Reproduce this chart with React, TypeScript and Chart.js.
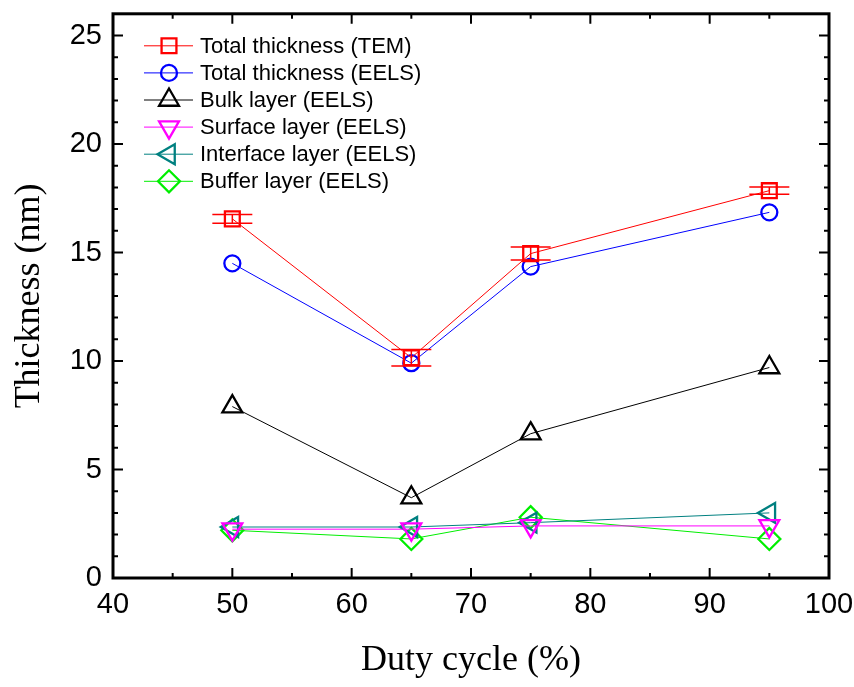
import React, { useEffect, useRef } from "react";
import { Chart, registerables } from "chart.js";
import { drawPoint } from "chart.js/helpers";

Chart.register(...registerables);

// ---- data ----
const dutyCycle = [50, 65, 75, 95];
const totalTEM = [16.55, 10.15, 14.95, 17.85];
const totalTEMErr = [0.2, 0.38, 0.3, 0.17];
const totalEELS = [14.5, 9.9, 14.35, 16.85];
const bulkEELS = [7.9, 3.7, 6.65, 9.7];
const surfaceEELS = [2.25, 2.25, 2.4, 2.4];
const interfaceEELS = [2.35, 2.35, 2.55, 3.0];
const bufferEELS = [2.2, 1.8, 2.8, 1.8];

const seriesNames = [
  "Total thickness (TEM)",
  "Total thickness (EELS)",
  "Bulk layer (EELS)",
  "Surface layer (EELS)",
  "Interface layer (EELS)",
  "Buffer layer (EELS)",
];

const xMajorTicks = [40, 50, 60, 70, 80, 90, 100];
const xMinorTicks = [45, 55, 65, 75, 85, 95];
const yMajorTicks = [0, 5, 10, 15, 20, 25];
const yMinorTicks = [1, 2, 3, 4, 6, 7, 8, 9, 11, 12, 13, 14, 16, 17, 18, 19, 21, 22, 23, 24];

const toPts = (vals: number[]) => vals.map((v, i) => ({ x: dutyCycle[i], y: v }));

const TRANSPARENT = "rgba(0,0,0,0)";

function mk(label: string, vals: number[], color: string, style: string, radius: number, rotation = 0) {
  return {
    label,
    data: toPts(vals),
    borderColor: color,
    backgroundColor: TRANSPARENT,
    borderWidth: 1,
    pointStyle: style,
    pointRotation: rotation,
    pointRadius: radius,
    pointHoverRadius: radius,
    pointBorderWidth: 2.3,
    pointBorderColor: color,
    pointBackgroundColor: TRANSPARENT,
    fill: false,
    tension: 0,
  };
}

const errorBarPlugin = {
  id: "errorBars",
  afterDatasetsDraw(chart: any) {
    const ctx = chart.ctx;
    const meta = chart.getDatasetMeta(0);
    const ys = chart.scales.y;
    ctx.save();
    ctx.strokeStyle = "#ff0000";
    ctx.lineWidth = 1.5;
    meta.data.forEach((pt: any, i: number) => {
      const x = pt.x;
      const yTop = ys.getPixelForValue(totalTEM[i] + totalTEMErr[i]);
      const yBot = ys.getPixelForValue(totalTEM[i] - totalTEMErr[i]);
      ctx.beginPath();
      ctx.moveTo(x, yTop);
      ctx.lineTo(x, yBot);
      ctx.moveTo(x - 20, yTop);
      ctx.lineTo(x + 20, yTop);
      ctx.moveTo(x - 20, yBot);
      ctx.lineTo(x + 20, yBot);
      ctx.stroke();
    });
    ctx.restore();
  },
};

const framePlugin = {
  id: "frameTicks",
  afterDraw(chart: any) {
    const ctx = chart.ctx;
    const { left, right, top, bottom } = chart.chartArea;
    const xs = chart.scales.x;
    const ys = chart.scales.y;
    ctx.save();
    ctx.strokeStyle = "#000";
    ctx.lineWidth = 2;
    const MAJ = 10;
    const MIN = 5;
    ctx.beginPath();
    xMajorTicks.forEach((v) => {
      const p = xs.getPixelForValue(v);
      ctx.moveTo(p, bottom);
      ctx.lineTo(p, bottom - MAJ);
      ctx.moveTo(p, top);
      ctx.lineTo(p, top + MAJ);
    });
    xMinorTicks.forEach((v) => {
      const p = xs.getPixelForValue(v);
      ctx.moveTo(p, bottom);
      ctx.lineTo(p, bottom - MIN);
      ctx.moveTo(p, top);
      ctx.lineTo(p, top + MIN);
    });
    yMajorTicks.forEach((v) => {
      const p = ys.getPixelForValue(v);
      ctx.moveTo(left, p);
      ctx.lineTo(left + MAJ, p);
      ctx.moveTo(right, p);
      ctx.lineTo(right - MAJ, p);
    });
    yMinorTicks.forEach((v) => {
      const p = ys.getPixelForValue(v);
      ctx.moveTo(left, p);
      ctx.lineTo(left + MIN, p);
      ctx.moveTo(right, p);
      ctx.lineTo(right - MIN, p);
    });
    ctx.stroke();
    ctx.lineWidth = 3;
    ctx.strokeRect(left, top, right - left, bottom - top);
    ctx.restore();
  },
};

const legendPlugin = {
  id: "insideLegend",
  afterDraw(chart: any) {
    const ctx = chart.ctx;
    const { left, top } = chart.chartArea;
    ctx.save();
    chart.data.datasets.forEach((ds: any, i: number) => {
      const y = top + 32 + i * 27.1;
      const x0 = left + 31;
      const x1 = left + 80;
      const xm = left + 56;
      ctx.strokeStyle = ds.borderColor;
      ctx.lineWidth = 1;
      ctx.beginPath();
      ctx.moveTo(x0, y);
      ctx.lineTo(x1, y);
      ctx.stroke();
      ctx.fillStyle = TRANSPARENT;
      ctx.lineWidth = 2.3;
      drawPoint(
        ctx,
        { pointStyle: ds.pointStyle, rotation: ds.pointRotation, radius: ds.pointRadius, borderWidth: 2.3 },
        xm,
        y
      );
      ctx.fillStyle = "#000";
      ctx.font = "22px 'Liberation Sans', Arial, sans-serif";
      ctx.textBaseline = "middle";
      ctx.textAlign = "left";
      ctx.fillText(seriesNames[i], left + 87, y + 1);
    });
    ctx.restore();
  },
};

export default function App() {
  const ref = useRef<HTMLCanvasElement | null>(null);
  useEffect(() => {
    if (!ref.current) return;
    const chart = new Chart(ref.current, {
      type: "line",
      data: {
        datasets: [
          mk(seriesNames[0], totalTEM, "#ff0000", "rect", 10.5),
          mk(seriesNames[1], totalEELS, "#0000ff", "circle", 8),
          mk(seriesNames[2], bulkEELS, "#000000", "triangle", 11.5),
          mk(seriesNames[3], surfaceEELS, "#ff00ff", "triangle", 11.5, 180),
          mk(seriesNames[4], interfaceEELS, "#008080", "triangle", 11.5, -90),
          mk(seriesNames[5], bufferEELS, "#00ee00", "rectRot", 11),
        ] as any,
      },
      plugins: [errorBarPlugin, framePlugin, legendPlugin],
      options: {
        animation: false,
        responsive: false,
        maintainAspectRatio: false,
        layout: { padding: { left: 0, top: 8, right: 25, bottom: 0 } },
        plugins: { legend: { display: false }, tooltip: { enabled: false } },
        scales: {
          x: {
            type: "linear",
            min: 40,
            max: 100,
            grid: { display: false, drawTicks: false },
            border: { display: false },
            afterBuildTicks: (s: any) => {
              s.ticks = xMajorTicks.map((v) => ({ value: v }));
            },
            afterFit: (s: any) => {
              s.height = 109;
              s.paddingLeft = 0;
              s.paddingRight = 0;
            },
            ticks: {
              color: "#000",
              padding: 10,
              maxRotation: 0,
              autoSkip: false,
              font: { family: "'Liberation Sans', Arial, sans-serif", size: 29 },
            },
            title: {
              display: true,
              text: "Duty cycle (%)",
              color: "#000",
              padding: { top: 0, bottom: 5 },
              font: { family: "'Liberation Serif', 'Times New Roman', serif", size: 36 },
            },
          },
          y: {
            type: "linear",
            min: 0,
            max: 26,
            grid: { display: false, drawTicks: false },
            border: { display: false },
            afterBuildTicks: (s: any) => {
              s.ticks = yMajorTicks.map((v) => ({ value: v }));
            },
            afterFit: (s: any) => {
              s.width = 113;
              s.paddingTop = 0;
              s.paddingBottom = 0;
            },
            ticks: {
              color: "#000",
              padding: 11,
              autoSkip: false,
              font: { family: "'Liberation Sans', Arial, sans-serif", size: 29 },
            },
            title: {
              display: true,
              text: "Thickness (nm)",
              color: "#000",
              padding: { top: 8, bottom: 0 },
              font: { family: "'Liberation Serif', 'Times New Roman', serif", size: 36 },
            },
          },
        },
      } as any,
    });
    return () => chart.destroy();
  }, []);
  return (
    <div style={{ position: "absolute", left: 0, top: 0, width: 854, height: 687, background: "#fff" }}>
      <canvas ref={ref} width={854} height={687} style={{ display: "block", width: 854, height: 687 }} />
    </div>
  );
}
